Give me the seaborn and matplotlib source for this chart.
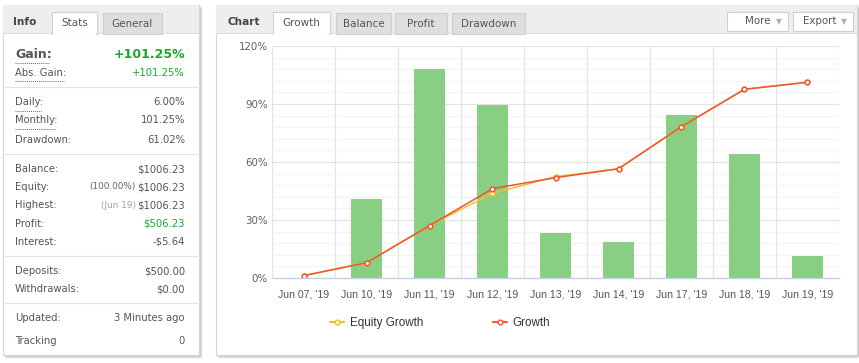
import matplotlib
matplotlib.use("Agg")
import matplotlib.pyplot as plt
from matplotlib.patches import Rectangle
from matplotlib.lines import Line2D
import numpy as np
import pandas as pd
import seaborn as sns

# chart data
dates = ["Jun 07, '19", "Jun 10, '19", "Jun 11, '19", "Jun 12, '19", "Jun 13, '19",
         "Jun 14, '19", "Jun 17, '19", "Jun 18, '19", "Jun 19, '19"]
daily_bars = [0, 40.7, 108.0, 89.3, 23.3, 18.6, 84.2, 64.0, 11.2]
equity_growth = [1.2, 7.9, 27.1, 43.8, 52.4, 56.5, 78.3, 97.6, 101.25]
growth = [1.2, 7.9, 27.1, 46.2, 51.9, 56.5, 78.3, 97.6, 101.25]
y_ticks = [0, 30, 60, 90, 120]

# stats panel text
stat_groups = [
    [("Daily:", "6.00%", None), ("Monthly:", "101.25%", None), ("Drawdown:", "61.02%", None)],
    [("Balance:", "$1006.23", None), ("Equity:", "$1006.23", "(100.00%)"),
     ("Highest:", "$1006.23", "(Jun 19)"), ("Profit:", "$506.23", None), ("Interest:", "-$5.64", None)],
    [("Deposits:", "$500.00", None), ("Withdrawals:", "$0.00", None)],
    [("Updated:", "3 Minutes ago", None), ("Tracking", "0", None)],
]
chart_tabs = ["Growth", "Balance", "Profit", "Drawdown"]

sns.set_theme(style="white")
plt.rcParams['font.family'] = ['DejaVu Sans']

W, H = 859, 363
fig = plt.figure(figsize=(W / 100, H / 100), dpi=100)
bg = fig.add_axes([0, 0, 1, 1])
bg.set_xlim(0, W)
bg.set_ylim(H, 0)
bg.axis('off')

TXT = "#555555"
GREEN = "#18a82e"


def box(x, y, w, h, fc, ec="none", lw=1, z=1):
    bg.add_patch(Rectangle((x, y), w, h, facecolor=fc, edgecolor=ec, lw=lw, zorder=z))


def panel(x, y, w, h):
    for i, a in enumerate([0.10, 0.07, 0.04]):
        box(x + 1 + i, y + 1 + i, w + 1, h + 1, fc=(0, 0, 0, a), z=0)
    box(x, y, w, h, "white", "#d6d6d6", 0.8, z=1)
    box(x, y, w, 28, "#eeeeee", z=1.5)
    bg.plot([x, x + w], [y + 28, y + 28], color="#dcdcdc", lw=0.8, zorder=1.6)


def tab(x, y, w, h, label, active):
    fc = "white" if active else "#dedede"
    box(x, y, w, h + 1, fc, "#cfcfcf", 0.8, z=2)
    if active:
        box(x + 0.6, y + h - 1, w - 1.2, 3, "white", z=2.1)
    bg.text(x + w / 2, y + h / 2 + 1, label, ha="center", va="center", fontsize=7.5,
            color="#555555", zorder=3)


# ---- left info panel
panel(3, 5, 196, 350)
bg.text(13, 22, "Info", fontsize=7.6, fontweight="bold", color="#444444", va="center", zorder=3)
tab(52, 12, 45, 21, "Stats", True)
tab(103, 13, 59, 20, "General", False)

bg.text(15, 54, "Gain:", fontsize=9, fontweight="bold", color="#555555", va="center", zorder=3)
bg.text(185, 54, "+101.25%", fontsize=9, fontweight="bold", color=GREEN, va="center", ha="right", zorder=3)
bg.text(15, 73, "Abs. Gain:", fontsize=7.2, color=TXT, va="center", zorder=3)
bg.text(185, 73, "+101.25%", fontsize=7.2, color=GREEN, va="center", ha="right", zorder=3)
for x0, x1, yy in [(15, 50, 62.5), (15, 64, 81), (15, 41, 110.5), (15, 56, 128.5)]:
    bg.plot([x0, x1], [yy, yy], ls=(0, (1, 1)), color="#666666", lw=0.7, zorder=3)

row_y = [[102, 120, 140], [169, 187, 205, 224, 242], [271, 289], [318, 341]]
seps = [87, 154, 256, 303]
for sy in seps:
    bg.plot([5, 197], [sy, sy], color="#e3e3e3", lw=0.8, zorder=3)
for group, ys in zip(stat_groups, row_y):
    for (lab, val, note), yy in zip(group, ys):
        bg.text(15, yy, lab, fontsize=7.2, color=TXT, va="center", zorder=3)
        col = GREEN if lab == "Profit:" else TXT
        bg.text(185, yy, val, fontsize=7.2, color=col, va="center", ha="right", zorder=3)
        if note:
            ncol = "#666666" if note.startswith("(1") else "#a0a0a0"
            bg.text(136, yy, note, fontsize=6.4, color=ncol, va="center", ha="right", zorder=3)

# ---- right chart panel
panel(216, 5, 641, 350)
bg.text(228, 22, "Chart", fontsize=7.6, fontweight="bold", color="#444444", va="center", zorder=3)
for (tx, tw), lab in zip([(273, 57), (336, 55), (395, 52), (452, 73)], chart_tabs):
    tab(tx, 12 if lab == "Growth" else 13, tw, 21 if lab == "Growth" else 20, lab, lab == "Growth")
for bx, bw, lab in [(727, 61, "More"), (793, 60, "Export")]:
    box(bx, 12, bw, 19, "white", "#d0d0d0", 0.8, z=2)
    bg.text(bx + bw - 17, 21.5, lab, fontsize=7.4, color="#555555", va="center", ha="right", zorder=3)
    bg.text(bx + bw - 6, 21.5, "▼", fontsize=5.5, color="#b0b0b0", va="center", ha="right", zorder=3)

# chart axes
L, R, T, B = 272, 839, 46, 278
ax = fig.add_axes([L / W, 1 - B / H, (R - L) / W, (B - T) / H], zorder=5)
ax.patch.set_alpha(0)

sns.barplot(x=dates, y=daily_bars, color="#88cf84", saturation=1, width=0.48,
            linewidth=0, ax=ax, zorder=2)

lines = pd.DataFrame({
    "date": dates * 2,
    "value": equity_growth + growth,
    "series": ["Equity Growth"] * len(dates) + ["Growth"] * len(dates),
})
sns.pointplot(data=lines, x="date", y="value", hue="series",
              palette={"Equity Growth": "#f5c023", "Growth": "#ef5530"},
              errorbar=None, markers="o", markersize=3.4, linewidth=1.1,
              markerfacecolor="white", markeredgewidth=1.1, legend=False, ax=ax)

ax.set_xlim(-0.5, len(dates) - 0.5)
ax.set_ylim(0, 120)
ax.set_yticks(y_ticks)
ax.set_yticklabels([f"{v}%" for v in y_ticks])
ax.set_yticks(np.arange(0, 121, 6), minor=True)
ax.set_xticks(np.arange(-0.5, len(dates), 1), minor=True)
ax.grid(False)
ax.grid(which="major", axis="y", color="#e4e4e4", lw=0.9, zorder=0)
ax.grid(which="minor", axis="y", color="#f3f3f3", lw=0.8, zorder=0)
ax.grid(which="minor", axis="x", color="#e4e4e4", lw=0.9, zorder=0)
ax.set_axisbelow(True)
ax.set_xlabel("")
ax.set_ylabel("")
for s in ["top", "right", "left"]:
    ax.spines[s].set_visible(False)
ax.spines["bottom"].set_color("#c4d2e6")
ax.spines["bottom"].set_linewidth(1)
ax.tick_params(which="both", length=0)
ax.tick_params(axis="y", pad=3, labelsize=7.4, labelcolor="#606060")
ax.tick_params(axis="x", pad=8, labelsize=7.6, labelcolor="#555555")
for t in ax.get_xticklabels():
    t.set_family(["Liberation Sans", "DejaVu Sans"])

handles = [
    Line2D([], [], color="#f5c023", marker="o", markersize=3.4, markerfacecolor="white", lw=1.5),
    Line2D([], [], color="#ef5530", marker="o", markersize=3.4, markerfacecolor="white", lw=1.5),
]
leg = ax.legend(handles, ["Equity Growth", "Growth"], loc="center",
                bbox_to_anchor=(440 / W, 1 - 323 / H), bbox_transform=fig.transFigure,
                ncol=2, frameon=False, handlelength=1.2, handletextpad=0.5,
                columnspacing=6.0, prop={"family": ["Liberation Sans", "DejaVu Sans"], "size": 8.4})
for t in leg.get_texts():
    t.set_color("#333333")

fig.savefig("out.png", dpi=100, facecolor="white")
